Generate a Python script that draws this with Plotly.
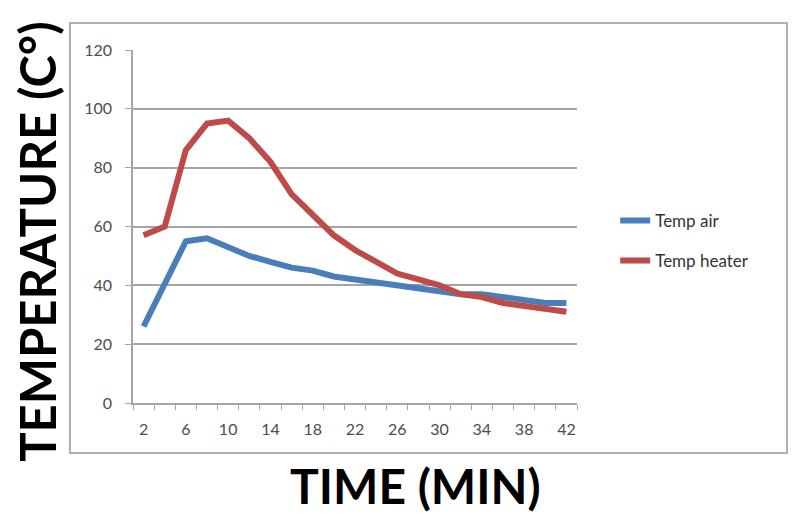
import plotly.graph_objects as go

time_min = [2, 4, 6, 8, 10, 12, 14, 16, 18, 20, 22, 24, 26, 28, 30, 32, 34, 36, 38, 40, 42]
temp_air = [26, 40, 55, 56, 53, 50, 48, 46, 45, 43, 42, 41, 40, 39, 38, 37, 37, 36, 35, 34, 34]
temp_heater = [57, 60, 86, 95, 96, 90, 82, 71, 64, 57, 52, 48, 44, 42, 40, 37, 36, 34, 33, 32, 31]
x_tick_labels = [2, 6, 10, 14, 18, 22, 26, 30, 34, 38, 42]
y_ticks = [0, 20, 40, 60, 80, 100, 120]

BLUE = "#4A7EBB"
RED = "#BE4B48"
GRID = "#A6A6A6"
TXT = "#4D4D4D"

fig = go.Figure()
fig.add_trace(go.Scatter(x=time_min, y=temp_air, mode="lines", name="Temp air",
                         legendgroup="a", line=dict(color=BLUE, width=6)))
fig.add_trace(go.Scatter(x=time_min, y=temp_heater, mode="lines", name="Temp heater",
                         legendgroup="b", line=dict(color=RED, width=6)))

fig.update_layout(
    width=800, height=524,
    margin=dict(l=133, r=223, t=50, b=121),
    paper_bgcolor="white", plot_bgcolor="white",
    font=dict(family="Lato, sans-serif", color=TXT),
    showlegend=True,
    legend=dict(x=1.086, y=0.567, xanchor="left", yanchor="top",
                font=dict(size=17, color="#333333", family="Lato, sans-serif"),
                tracegroupgap=15, traceorder="grouped",
                bgcolor="rgba(0,0,0,0)", itemwidth=30),
    xaxis=dict(range=[1, 43], tickmode="array", tickvals=x_tick_labels,
               ticktext=[str(v) for v in x_tick_labels], ticks="",
               showgrid=False, zeroline=False, showline=True,
               linecolor=GRID, linewidth=1.5,
               tickfont=dict(size=16, color=TXT), ticklabelstandoff=11,
               minor=dict(tick0=1, dtick=2, ticks="outside", ticklen=5,
                          tickcolor=GRID, tickwidth=1.2, showgrid=False)),
    yaxis=dict(range=[0, 120], tickmode="array", tickvals=y_ticks,
               ticks="outside", ticklen=6, tickcolor=GRID, tickwidth=1.2,
               showgrid=True, gridcolor=GRID, gridwidth=1.5,
               zeroline=False, showline=True, linecolor=GRID, linewidth=1.5,
               tickfont=dict(size=16, color=TXT), ticklabelstandoff=10),
)

# outer chart frame
fig.add_shape(type="rect", xref="paper", yref="paper",
              x0=-0.142, x1=1.473, y0=-0.1416, y1=1.0765,
              line=dict(color="#B0B0B0", width=2), fillcolor="rgba(0,0,0,0)", layer="below")

fig.add_annotation(text="<b>TEMPERATURE (C°)</b>", xref="paper", yref="paper",
                   x=-0.215, y=0.458, xanchor="center", yanchor="middle",
                   textangle=-90, showarrow=False,
                   font=dict(size=49, color="black", family="Lato, sans-serif"))
fig.add_annotation(text="<b>TIME (MIN)</b>", xref="paper", yref="paper",
                   x=0.637, y=-0.235, xanchor="center", yanchor="middle",
                   showarrow=False,
                   font=dict(size=48, color="black", family="Lato, sans-serif"))

fig.write_html("out.html")
